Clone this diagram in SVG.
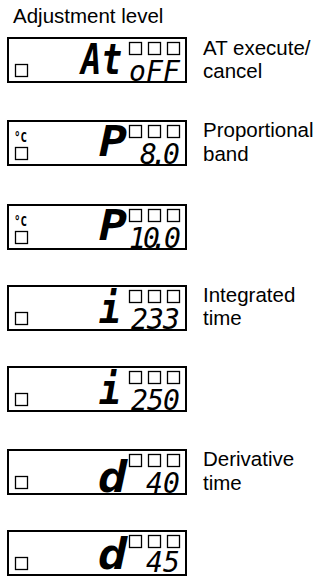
<svg xmlns="http://www.w3.org/2000/svg" width="322" height="579" viewBox="0 0 322 579">
<style>
.lbl{font-family:"Liberation Sans",Arial,sans-serif;font-size:20.5px;fill:#000}
.box{fill:#fff;stroke:#000;stroke-width:2}
.sq{fill:none;stroke:#000;stroke-width:1.3}
.dig{font-family:"DejaVu Sans Mono",monospace;font-style:oblique;font-size:28px;fill:#000}
.big{font-family:"DejaVu Sans Mono",monospace;font-style:oblique;font-weight:bold;font-size:42px;fill:#000}
.deg{font-family:"DejaVu Sans Mono",monospace;font-weight:bold;font-size:14px;fill:#000}
</style>
<defs>
<g id="frame">
<rect class="box" x="8" y="1" width="178" height="44"/>
<rect class="sq" x="15.5" y="27.5" width="12" height="12"/>
<rect class="sq" x="129.5" y="5.5" width="12" height="12"/>
<rect class="sq" x="148.5" y="5.5" width="12" height="12"/>
<rect class="sq" x="167.5" y="5.5" width="12" height="12"/>
</g>
</defs>
<text class="lbl" x="13" y="23">Adjustment level</text>

<g id="disp-at" transform="translate(0,37)">
<use href="#frame"/>
<text class="big" x="81" y="37" textLength="41" lengthAdjust="spacingAndGlyphs">At</text>
<text class="dig" x="129 146 163" y="44">oFF</text>
</g>
<g id="lbl-at">
<text class="lbl" x="203" y="55">AT execute/</text>
<text class="lbl" x="203" y="78">cancel</text>
</g>

<g id="disp-p1" transform="translate(0,120)">
<use href="#frame"/>
<text class="deg" x="14" y="22" textLength="13" lengthAdjust="spacingAndGlyphs">°C</text>
<text class="big" x="99" y="36" textLength="28" lengthAdjust="spacingAndGlyphs">P</text>
<text class="dig" x="140 151 163" y="44">8.0</text>
</g>
<g id="lbl-p">
<text class="lbl" x="203" y="137">Proportional</text>
<text class="lbl" x="203" y="161">band</text>
</g>

<g id="disp-p2" transform="translate(0,204)">
<use href="#frame"/>
<text class="deg" x="14" y="22" textLength="13" lengthAdjust="spacingAndGlyphs">°C</text>
<text class="big" x="99" y="36" textLength="28" lengthAdjust="spacingAndGlyphs">P</text>
<text class="dig" x="129 143 151 164" y="44">10.0</text>
</g>

<g id="disp-i1" transform="translate(0,285)">
<use href="#frame"/>
<text class="big" x="99" y="38" textLength="22" lengthAdjust="spacingAndGlyphs">i</text>
<text class="dig" x="131 147 163" y="44">233</text>
</g>
<g id="lbl-i">
<text class="lbl" x="203" y="302">Integrated</text>
<text class="lbl" x="203" y="325">time</text>
</g>

<g id="disp-i2" transform="translate(0,366)">
<use href="#frame"/>
<text class="big" x="99" y="38" textLength="22" lengthAdjust="spacingAndGlyphs">i</text>
<text class="dig" x="131 147 163" y="44">250</text>
</g>

<g id="disp-d1" transform="translate(0,449)">
<use href="#frame"/>
<text class="big" x="98" y="43" textLength="29" lengthAdjust="spacingAndGlyphs">d</text>
<text class="dig" x="146 163" y="44">40</text>
</g>
<g id="lbl-d">
<text class="lbl" x="203" y="466">Derivative</text>
<text class="lbl" x="203" y="490">time</text>
</g>

<g id="disp-d2" transform="translate(0,530)">
<use href="#frame"/>
<text class="big" x="98" y="39" textLength="29" lengthAdjust="spacingAndGlyphs">d</text>
<text class="dig" x="146 163" y="42">45</text>
</g>
</svg>
